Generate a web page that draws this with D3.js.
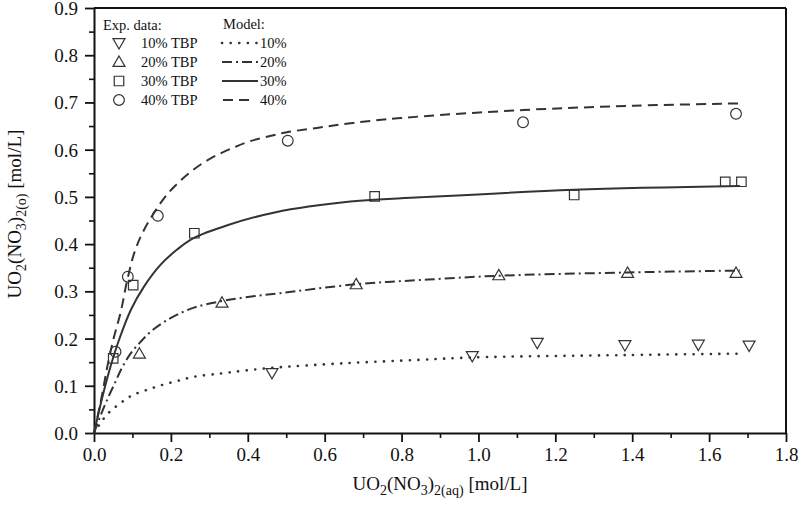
<!DOCTYPE html>
<html><head><meta charset="utf-8">
<script src="https://cdn.jsdelivr.net/npm/d3@7"></script>
<style>
body{margin:0;background:#fff;}
svg{display:block;font-family:"Liberation Serif","Times New Roman",serif;}
</style></head>
<body><svg id="c" width="800" height="521"></svg>
<script>
// ---- data ----
const xTicks = [0.0,0.2,0.4,0.6,0.8,1.0,1.2,1.4,1.6,1.8];
const yTicks = [0.0,0.1,0.2,0.3,0.4,0.5,0.6,0.7,0.8,0.9];
const seriesNames = ["10% TBP","20% TBP","30% TBP","40% TBP"];
const modelNames = ["10%","20%","30%","40%"];

const expX10 = [0.463,0.984,1.153,1.381,1.572,1.704];
const expY10 = [0.126,0.162,0.190,0.185,0.186,0.184];
const expX20 = [0.118,0.333,0.682,1.053,1.388,1.670];
const expY20 = [0.169,0.277,0.316,0.335,0.340,0.340];
const expX30 = [0.050,0.102,0.261,0.730,1.249,1.642,1.684];
const expY30 = [0.158,0.313,0.423,0.501,0.504,0.532,0.532];
const expX40 = [0.056,0.088,0.166,0.504,1.116,1.670];
const expY40 = [0.172,0.331,0.460,0.619,0.658,0.676];

const modX10 = [0,0.016,0.037,0.070,0.100,0.140,0.174,0.220,0.260,0.330,0.391,0.463,0.658,0.849,0.984,1.381,1.68];
const modY10 = [0,0.020,0.042,0.064,0.080,0.092,0.101,0.111,0.119,0.126,0.132,0.138,0.148,0.155,0.160,0.165,0.168];
const modX20 = [0,0.017,0.035,0.055,0.072,0.095,0.120,0.148,0.180,0.215,0.262,0.330,0.400,0.484,0.682,0.849,1.053,1.388,1.68];
const modY20 = [0,0.037,0.072,0.107,0.137,0.168,0.192,0.215,0.234,0.250,0.266,0.279,0.288,0.296,0.315,0.324,0.333,0.340,0.344];
const modX30 = [0,0.022,0.043,0.065,0.096,0.130,0.174,0.217,0.260,0.347,0.470,0.667,0.849,1.249,1.68];
const modY30 = [0,0.077,0.141,0.197,0.261,0.310,0.357,0.389,0.413,0.440,0.467,0.490,0.499,0.515,0.523];
const modX40 = [0,0.020,0.037,0.051,0.070,0.085,0.105,0.130,0.182,0.213,0.247,0.282,0.321,0.365,0.406,0.458,0.502,0.580,0.667,0.797,1.117,1.405,1.68];
const modY40 = [0,0.077,0.150,0.200,0.258,0.318,0.382,0.430,0.497,0.525,0.550,0.571,0.589,0.605,0.618,0.629,0.637,0.646,0.656,0.667,0.684,0.693,0.698];

// ---- layout ----
const L=94, R=786, T=8, B=433;
const ink="#333";
const svg=d3.select("#c");
const x=d3.scaleLinear().domain([0,1.8]).range([L,R]);
const y=d3.scaleLinear().domain([0,0.9]).range([B,T]);

// frame
svg.append("line").attr("x1",L).attr("x2",R).attr("y1",T).attr("y2",T).attr("stroke","#111").attr("stroke-width",2);
svg.append("line").attr("x1",R).attr("x2",R).attr("y1",T).attr("y2",B).attr("stroke","#111").attr("stroke-width",2);

// minor ticks
const xMinor=d3.range(0.1,1.8,0.2);
const yMinor=d3.range(0.05,0.9,0.1);
svg.append("g").attr("transform",`translate(0,${B})`)
  .call(d3.axisBottom(x).tickValues(xMinor).tickSize(5).tickFormat(""))
  .call(g=>g.select(".domain").remove())
  .call(g=>g.selectAll("line").attr("stroke","#111").attr("stroke-width",1.6));
svg.append("g").attr("transform",`translate(${L},0)`)
  .call(d3.axisLeft(y).tickValues(yMinor).tickSize(5).tickFormat(""))
  .call(g=>g.select(".domain").remove())
  .call(g=>g.selectAll("line").attr("stroke","#111").attr("stroke-width",1.6));

// major axes
const gx=svg.append("g").attr("transform",`translate(0,${B})`)
  .call(d3.axisBottom(x).tickValues(xTicks).tickSize(9).tickSizeOuter(0).tickPadding(6).tickFormat(d3.format(".1f")));
const gy=svg.append("g").attr("transform",`translate(${L},0)`)
  .call(d3.axisLeft(y).tickValues(yTicks).tickSize(9).tickSizeOuter(0).tickPadding(7).tickFormat(d3.format(".1f")));
[gx,gy].forEach(g=>{
  g.select(".domain").attr("stroke","#111").attr("stroke-width",2);
  g.selectAll(".tick line").attr("stroke","#111").attr("stroke-width",1.8);
  g.selectAll("text").attr("font-family","Liberation Serif, serif").attr("font-size",19).attr("fill","#111");
});
gy.selectAll(".tick text").attr("dy","0.34em");

// model curves
const dashes=["0.1,8.5","10,4,2,4",null,"10,6"];
const caps=["round","butt","butt","butt"];
const widths=[2.6,2,2,2];
const line=d3.line().x(d=>x(d[0])).y(d=>y(d[1])).curve(d3.curveCatmullRom.alpha(0.5));
const models=[[modX10,modY10],[modX20,modY20],[modX30,modY30],[modX40,modY40]];
models.forEach((m,i)=>{
  const pts=m[0].map((v,j)=>[v,m[1][j]]);
  svg.append("path").attr("d",line(pts)).attr("fill","none").attr("stroke",ink)
    .attr("stroke-width",widths[i]).attr("stroke-dasharray",dashes[i]).attr("stroke-linecap",caps[i]);
});

// experimental markers
const symDown=d3.symbol().type(d3.symbolTriangle).size(62);
const symUp=d3.symbol().type(d3.symbolTriangle).size(62);
const symSq=d3.symbol().type(d3.symbolSquare).size(90);
const symCi=d3.symbol().type(d3.symbolCircle).size(90);
const shapes=[{s:symDown,r:180,dy:-1.5},{s:symUp,r:0,dy:1.5},{s:symSq,r:0,dy:0},{s:symCi,r:0,dy:0}];
const exps=[[expX10,expY10],[expX20,expY20],[expX30,expY30],[expX40,expY40]];
exps.forEach((e,i)=>{
  const sh=shapes[i];
  svg.append("g").selectAll("path").data(e[0].map((v,j)=>[v,e[1][j]])).join("path")
    .attr("d",sh.s())
    .attr("transform",d=>`translate(${x(d[0])},${y(d[1])+sh.dy}) rotate(${sh.r})`)
    .attr("fill","none").attr("stroke",ink).attr("stroke-width",1.2);
});

// legend
const lg=svg.append("g").attr("font-size",14.5).attr("fill","#111");
lg.append("text").attr("x",103).attr("y",30).text("Exp. data:");
lg.append("text").attr("x",223).attr("y",29).text("Model:");
const rows=[43,62,81,100];
seriesNames.forEach((n,i)=>{
  const sh=shapes[i];
  lg.append("path").attr("d",sh.s()).attr("transform",`translate(119,${rows[i]+sh.dy*0.6}) rotate(${sh.r})`)
    .attr("fill","none").attr("stroke",ink).attr("stroke-width",1.2);
  lg.append("text").attr("x",141).attr("y",rows[i]+5).text(n);
  lg.append("line").attr("x1",i===3?223:222).attr("x2",i===3?250:258).attr("y1",rows[i]).attr("y2",rows[i])
    .attr("stroke",ink).attr("stroke-width",widths[i]).attr("stroke-dasharray",dashes[i]).attr("stroke-linecap",caps[i]);
  lg.append("text").attr("x",260).attr("y",rows[i]+5).text(modelNames[i]);
});

// axis titles
const xt=svg.append("text").attr("x",440).attr("y",490).attr("text-anchor","middle").attr("font-size",19).attr("fill","#111");
xt.append("tspan").text("UO");
xt.append("tspan").attr("font-size",14).attr("dy",5).text("2");
xt.append("tspan").attr("dy",-5).text("(NO");
xt.append("tspan").attr("font-size",14).attr("dy",5).text("3");
xt.append("tspan").attr("dy",-5).text(")");
xt.append("tspan").attr("font-size",14).attr("dy",5).text("2(aq)");
xt.append("tspan").attr("dy",-5).text(" [mol/L]");

const yt=svg.append("text").attr("transform","translate(21,214) rotate(-90)").attr("text-anchor","middle").attr("font-size",19).attr("fill","#111");
yt.append("tspan").text("UO");
yt.append("tspan").attr("font-size",14).attr("dy",5).text("2");
yt.append("tspan").attr("dy",-5).text("(NO");
yt.append("tspan").attr("font-size",14).attr("dy",5).text("3");
yt.append("tspan").attr("dy",-5).text(")");
yt.append("tspan").attr("font-size",14).attr("dy",5).text("2(o)");
yt.append("tspan").attr("dy",-5).text(" [mol/L]");
</script></body></html>
